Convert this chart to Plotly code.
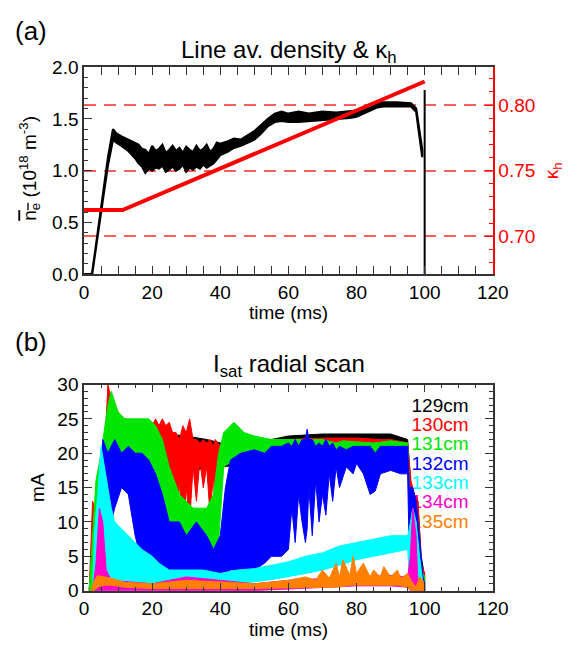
import plotly.graph_objects as go

# ---------------- Panel (a) data ----------------
dens_t = [0, 2.3, 3.0, 5.0, 7.0, 8.5, 9.5, 11, 13, 15, 16, 17, 18, 19, 20, 21, 22, 23, 24, 25, 26, 27,
          28, 29, 30, 31, 32, 33, 34, 35, 36, 37, 38, 39, 40, 42, 44, 46, 48, 50, 52, 54, 56, 58, 60,
          63, 66, 70, 74, 78, 80, 82, 84, 86, 88, 92, 96, 97.5, 98.5, 99.3]
dens_lo = [-0.02, -0.02, 0.12, 0.60, 1.05, 1.30, 1.27, 1.24, 1.19, 1.12, 1.07, 1.04, 0.98, 1.02, 1.00,
           1.03, 1.02, 1.05, 0.99, 1.01, 1.04, 1.00, 1.02, 1.06, 0.99, 1.03, 1.01, 1.04, 1.02, 1.06,
           1.03, 1.05, 1.07, 1.11, 1.15, 1.18, 1.22, 1.24, 1.27, 1.30, 1.36, 1.43, 1.47, 1.48, 1.47,
           1.47, 1.48, 1.49, 1.50, 1.51, 1.52, 1.55, 1.58, 1.61, 1.62, 1.62, 1.62, 1.57, 1.35, 1.13]
dens_hi = [0.0, 0.0, 0.16, 0.66, 1.12, 1.40, 1.36, 1.33, 1.30, 1.27, 1.25, 1.21, 1.20, 1.16, 1.24, 1.19,
           1.21, 1.25, 1.17, 1.20, 1.24, 1.19, 1.22, 1.17, 1.23, 1.20, 1.18, 1.24, 1.19, 1.21, 1.25,
           1.18, 1.21, 1.27, 1.26, 1.28, 1.31, 1.30, 1.34, 1.38, 1.44, 1.50, 1.55, 1.57, 1.55, 1.57,
           1.55, 1.57, 1.56, 1.57, 1.58, 1.60, 1.63, 1.65, 1.66, 1.66, 1.65, 1.60, 1.40, 1.20]
spike_t = [100, 100]
spike_n = [0.0, 1.78]

kappa_t = [0, 11.3, 100]
kappa_v = [0.72, 0.72, 0.818]

# ---------------- Panel (b) data ----------------
labels = ["129cm", "130cm", "131cm", "132cm", "133cm", "134cm", "135cm"]
colors = ["#000000", "#ff0000", "#00e600", "#0000ff", "#00ffff", "#ff00cc", "#ff8000"]

t129 = [1.5, 3, 5, 7, 9, 12, 20, 30, 36, 40, 50, 60, 70, 80, 90, 95, 96, 98, 99, 100]
lo129 = [0, 0, 5, 15, 20, 20, 18, 17, 18, 18, 18.5, 19, 20, 20, 20, 20, 13, 3, 0, 0]
hi129 = [0, 10, 18, 25, 26, 25, 23, 22.5, 22, 21.5, 21.5, 22.5, 22.8, 22.8, 22.8, 22, 15, 13, 5, 2]

t130 = [1.5, 2.5, 3.2, 4, 6, 7, 8, 10, 12, 15, 20, 21, 22, 23, 24, 25, 26, 27, 28, 29, 30, 31, 32, 33,
        34, 35, 36, 37, 38, 38.5, 39.3, 40, 45, 55, 60, 70, 80, 85, 87, 90, 95, 96, 97, 98, 99, 100]
lo130 = [0, 0, 0, 0, 5, 15, 20, 21, 20, 19, 18, 14, 19, 11, 18, 9, 17, 8, 16, 7, 15, 10, 18, 13, 19,
         15, 18, 11, 17, 9, 16, 18, 19, 19.5, 19, 20, 20, 19, 18.5, 20, 20, 14, 8, 4, 1, 0]
hi130 = [0, 13, 12, 5, 20, 30, 28, 26, 25, 24, 24, 25, 24, 25, 24, 24.5, 23, 23, 22, 24, 23, 25, 22,
         22, 21.5, 22, 21.5, 22, 21, 22, 21.5, 21, 21, 21.5, 22, 22.2, 22.2, 22, 22, 22, 21.5, 16, 14,
         13, 4, 2.5]

t131 = [1.5, 2.5, 3.5, 5, 7, 8, 10, 12, 15, 17, 19, 21, 23, 25, 28, 32, 36, 38, 39.5, 41, 44, 47, 50,
        55, 60, 65, 70, 74, 76, 85, 90, 95, 95.5, 97, 98, 99, 100]
lo131 = [0, 0, 0, 2, 14, 18, 20, 19, 17, 15, 12, 8, 6, 6, 5, 5, 5, 6, 7, 18, 19, 19, 19, 19, 19, 19, 20,
         19, 20, 19.5, 20.5, 20.5, 12, 5, 3, 0, 0]
hi131 = [0, 8, 16, 20, 27, 29, 26, 25, 25, 25, 25, 24, 22, 18, 14, 12, 12, 14, 20, 23, 24.5, 23, 22.5,
         22, 22, 22, 22, 21.5, 21.8, 21.5, 21.8, 21.5, 15, 12, 10, 3, 2]

t132 = [4.5, 5.5, 7, 8, 9, 11, 13, 15, 17, 19, 21, 23, 25, 28, 30, 33, 36, 38, 40, 41.5, 43, 46, 50,
        53, 55, 58, 60, 61, 62, 63, 64, 65, 65.5, 66, 67, 68, 69, 70, 71, 72, 73, 74, 75, 77, 79, 80,
        82, 84, 85.5, 87, 90, 93, 95, 95.5, 96.5, 97.5, 98.5, 99.5, 100]
lo132 = [0, 3, 8, 10, 12, 15, 14, 8, 4, 3, 2, 2, 2, 2, 2, 1.5, 2, 2, 2, 2.5, 3, 3, 3, 4, 5, 5, 6, 12,
         7, 14, 10, 7, 9, 15, 8, 16, 10, 14, 11, 17, 13, 18, 15, 18, 17, 18.5, 17, 14, 14.5, 17, 17.5,
         17, 17, 5, 3, 2, 0, 0, 0]
hi132 = [5, 22, 20, 21, 22, 20, 21, 20, 20, 19, 17, 14, 10, 10, 8, 10, 8, 6, 8, 15, 19, 20, 20.5, 20,
         21, 21, 21.5, 21, 22, 21, 22, 22, 23.5, 22, 22, 21, 21.5, 21, 22, 21, 21.5, 20.5, 21, 20.5,
         21, 21, 21, 21, 20, 21, 21, 21, 21, 15, 15, 13, 8, 2, 1]

t133 = [2.5, 3, 4, 5, 6, 7, 8, 9, 11, 13, 15, 17, 20, 22, 25, 30, 35, 40, 45, 50, 55, 60, 65, 70, 75,
        80, 85, 90, 95, 95.5, 96.5, 97.5, 98.5, 99.5]
lo133 = [0, 0, 0, 1, 2, 2, 2, 1.5, 1.5, 1.5, 1, 1, 1, 0.5, 0.5, 0.5, 0.5, 0.5, 1, 1.3, 1.6, 2, 2.5, 3,
         3.7, 4.5, 5, 5.5, 6, 2, 0.5, 0.5, 0, 0]
hi133 = [0, 8, 14, 21, 18, 15, 12, 10, 9, 8, 7, 6, 5, 4, 3, 3, 3, 2.5, 3, 3.2, 3.7, 4.2, 5, 5.5, 6.5, 7,
         7.5, 8, 8, 9, 12, 10, 5, 1]

t134 = [2.5, 3.5, 4.5, 5.5, 6.5, 8, 20, 30, 40, 50, 60, 70, 80, 90, 95, 95.8, 96.5, 97.5, 98, 99, 100]
lo134 = [0, 0, 0, 0, 0, 0, 0, 0, 0, 0, 0.3, 0.5, 0.7, 0.7, 0.5, 0, 0, 0, 0, 0, 0]
hi134 = [0, 4, 12, 10, 3, 1.5, 1, 2, 1.5, 1, 1.5, 1.8, 2, 2.2, 2, 5, 12, 8, 1, 0.5, 0.2]

t135 = [2, 3, 4, 6, 8, 12, 20, 30, 40, 50, 60, 65, 68, 70, 72, 74, 75, 76, 78, 79, 80, 82, 84, 85,
        87, 88, 90, 92, 93, 95, 96, 97.5, 98.5, 99.5, 100]
lo135 = [0, 0, 0.5, 0.8, 0.8, 0.5, 0.3, 0.3, 0.3, 0.3, 0.4, 0.5, 0.5, 0.5, 0.5, 0.5, 0.5, 0.6, 0.8,
         0.8, 0.8, 0.8, 0.8, 0.8, 0.8, 0.8, 0.8, 0.8, 0.7, 0.5, 0, 0, 0, 0, 0]
hi135 = [0, 1.5, 2.2, 2.0, 1.8, 1.2, 1.0, 1.5, 1.2, 1.0, 1.5, 2.0, 1.5, 3.0, 1.8, 4.0, 2.0, 4.5, 2.2,
         5.0, 2.5, 4.0, 2.0, 3.0, 2.0, 3.5, 2.0, 3.0, 1.8, 2.5, 1.5, 0.5, 2.0, 1.5, 0]

series = [(t129, lo129, hi129), (t130, lo130, hi130), (t131, lo131, hi131), (t132, lo132, hi132),
          (t133, lo133, hi133), (t134, lo134, hi134), (t135, lo135, hi135)]

# ---------------- Figure ----------------
W, H = 583, 651
FONT = "Liberation Sans, Arial, Helvetica, sans-serif"
PB_TOP, PB_BOT = 387, 600


def px_x(p):
    return p / W


def px_y(p):
    return 1 - p / H


fig = go.Figure()

# density band
fig.add_trace(go.Scatter(x=dens_t + dens_t[::-1], y=dens_hi + dens_lo[::-1], fill="toself",
                         fillcolor="black", line=dict(color="black", width=2.2), mode="lines",
                         xaxis="x", yaxis="y", hoverinfo="skip"))
fig.add_trace(go.Scatter(x=spike_t, y=spike_n, mode="lines", line=dict(color="black", width=2),
                         xaxis="x", yaxis="y"))
# kappa line
fig.add_trace(go.Scatter(x=kappa_t, y=kappa_v, mode="lines", line=dict(color="#ff0000", width=4),
                         xaxis="x", yaxis="y2"))

# panel b legend text (drawn beneath the data, as in the original)
leg_px = [410 + 20 * i for i in range(len(labels))]
leg_y = [(PB_BOT - p) / (PB_BOT - PB_TOP) * 30 for p in leg_px]
fig.add_trace(go.Scatter(x=[112.9] * len(labels), y=leg_y, mode="text", text=labels,
                         textposition="middle left", cliponaxis=False,
                         textfont=dict(family=FONT, size=19, color=colors), xaxis="x2", yaxis="y3",
                         hoverinfo="skip"))

# panel b bands
for (t, lo, hi), c in zip(series, colors):
    fig.add_trace(go.Scatter(x=t + t[::-1], y=hi + lo[::-1], fill="toself", fillcolor=c,
                             line=dict(color=c, width=1), mode="lines", xaxis="x2", yaxis="y3",
                             hoverinfo="skip"))

frame = "#333333"
common = dict(showline=True, linecolor=frame, linewidth=1.5, ticks="inside", ticklen=8, tickwidth=1.2,
              tickcolor=frame, showgrid=False, zeroline=False,
              tickfont=dict(family=FONT, size=19, color="black"))

dom_x = [82 / W, 506 / W]
fig.update_layout(
    width=W, height=H, margin=dict(l=0, r=0, t=0, b=0), showlegend=False,
    plot_bgcolor="white", paper_bgcolor="white", font=dict(family=FONT, size=19, color="black"),
    xaxis=dict(domain=dom_x, anchor="y", range=[0, 120], dtick=20, mirror="allticks",
               minor=dict(ticks="inside", ticklen=4, dtick=5, tickcolor=frame), **common),
    yaxis=dict(domain=[px_y(273), px_y(59)], anchor="x", range=[0, 2], dtick=0.5, tickformat=".1f",
               minor=dict(ticks="inside", ticklen=4, dtick=0.1, tickcolor=frame), **common),
    yaxis2=dict(overlaying="y", side="right", anchor="x", range=[0.671, 0.829], tick0=0.70, dtick=0.05,
                tickformat=".2f", showline=True, linecolor="#ff0000", linewidth=1.5, ticks="inside",
                ticklen=8, tickwidth=1.2, tickcolor="#ff0000", zeroline=False,
                tickfont=dict(family=FONT, size=19, color="#ff0000"),
                minor=dict(ticks="inside", ticklen=4, dtick=0.01, tick0=0.70, tickcolor="#ff0000"),
                showgrid=True, gridcolor="rgba(255,40,40,0.75)", gridwidth=1.5, griddash="12px,8px"),
    xaxis2=dict(domain=dom_x, anchor="y3", range=[0, 120], dtick=20, mirror="allticks",
                minor=dict(ticks="inside", ticklen=4, dtick=5, tickcolor=frame), **common),
    yaxis3=dict(domain=[px_y(PB_BOT), px_y(PB_TOP)], anchor="x2", range=[0, 30], dtick=5,
                mirror="allticks", minor=dict(ticks="inside", ticklen=4, dtick=1, tickcolor=frame),
                **common),
)

ann = []


def add_text(text, xp, yp, size=19, color="black", angle=0, xanchor="center"):
    ann.append(dict(text=text, x=px_x(xp), y=px_y(yp), xref="paper", yref="paper", showarrow=False,
                    xanchor=xanchor, yanchor="middle", textangle=angle,
                    font=dict(family=FONT, size=size, color=color)))


add_text("(a)", 27, 22, size=26)
add_text("(b)", 27, 343, size=26)
add_text("Line av. density &amp; κ<sub>h</sub>", 295, 43, size=24)
add_text("I<sub>sat</sub> radial scan", 295, 367, size=24)
add_text("time (ms)", 294, 313)
add_text("time (ms)", 294, 640)
add_text("<span style='text-decoration:overline'>n<sub>e</sub></span> (10<sup>18</sup> m<sup>-3</sup>)",
         26, 164, angle=-90)
add_text("κ<sub>h</sub>", 568, 166, color="#ff0000", angle=-90)
add_text("mA", 33, 493, angle=-90)

fig.update_layout(annotations=ann)
fig.write_html("out.html")
